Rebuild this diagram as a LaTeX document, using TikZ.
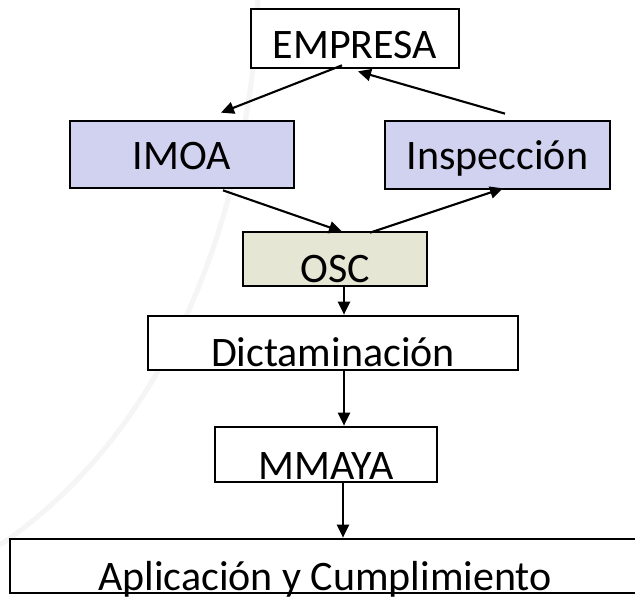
\documentclass[tikz,border=0pt]{standalone}
\usepackage{fontspec}
\setmainfont{Carlito}
\usetikzlibrary{arrows.meta}
\definecolor{lav}{RGB}{209,210,240}
\definecolor{beige}{RGB}{230,230,212}
\tikzset{
  box/.style={draw=black, line width=2.7pt, inner sep=0pt, fill=white,
    font=\fontsize{42}{50}\selectfont, text depth=0pt, text height=#1},
  arr/.style={line width=2.1pt, -{Triangle[length=13pt,width=12pt]}},
  swoosh/.style={line width=5pt, draw=black!4},
}
\begin{document}
\begin{tikzpicture}[x=1pt,y=-1pt]
\useasboundingbox (0,0) rectangle (635,597);
\clip (0,0) rectangle (635,597);
\fill[white] (0,0) rectangle (635,597);
\draw[swoosh] (258,0) .. controls (250,210) and (170,430) .. (0,545);

\node[box=39pt, minimum width=208pt, minimum height=59pt] (empresa) at (355,38.5) {EMPRESA};
\node[box=29pt, fill=lav, minimum width=224pt, minimum height=67pt] (imoa) at (182,154.5) {IMOA};
\node[box=28pt, fill=lav, minimum width=225pt, minimum height=68pt] (insp) at (497.5,155) {Inspección};
\node[box=46pt, fill=beige, minimum width=184pt, minimum height=54pt] (osc) at (335,259) {OSC};
\node[box=46pt, minimum width=370pt, minimum height=54pt] (dict) at (333,343) {Dictaminación};
\node[box=49pt, minimum width=222pt, minimum height=55pt] (mmaya) at (326,454.5) {MMAYA};
\node[box=48pt, minimum width=630pt, minimum height=54pt] (apl) at (325,566) {Aplicación y Cumplimiento};

\draw[arr] ([xshift=-13pt,yshift=4pt]empresa.south) -- ([xshift=39pt,yshift=7pt]imoa.north);
\draw[arr] ([xshift=7.5pt,yshift=6pt]insp.north) -- ([xshift=3pt,yshift=-2pt]empresa.south);
\draw[arr] ([xshift=41pt,yshift=-1pt]imoa.south) -- ([xshift=7pt,yshift=-1pt]osc.north);
\draw[arr] ([xshift=35pt,yshift=-2pt]osc.north) -- ([xshift=5.5pt,yshift=2pt]insp.south);
\draw[arr] ([xshift=9pt]osc.south) -- ([xshift=11pt]dict.north);
\draw[arr] ([xshift=11pt]dict.south) -- ([xshift=18pt]mmaya.north);
\draw[arr] ([xshift=17pt]mmaya.south) -- ([xshift=18pt]apl.north);
\end{tikzpicture}
\end{document}
